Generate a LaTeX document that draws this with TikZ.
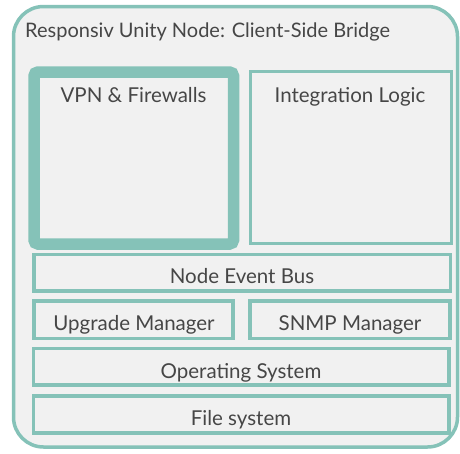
\documentclass[tikz,border=0pt]{standalone}
\usepackage{fontspec}
\setmainfont{Lato}
\definecolor{tealline}{RGB}{133,194,184}
\definecolor{bgfill}{RGB}{241,241,241}
\definecolor{txtcol}{RGB}{70,70,70}
\begin{document}
\begin{tikzpicture}[x=1pt,y=-1pt,
  outerbox/.style={draw=tealline,line width=3.5pt,fill=bgfill,rounded corners=30pt},
  layer/.style={draw=tealline,line width=3.5pt,fill=bgfill,inner sep=0pt,outer sep=0pt},
  thickbox/.style={draw=tealline,line width=11.5pt,fill=bgfill,rounded corners=4pt,inner sep=0pt,outer sep=0pt},
  lbl/.style={anchor=base,text=txtcol,font=\fontsize{20.5}{24}\selectfont,inner sep=0pt},
  ttl/.style={anchor=base west,text=txtcol,font=\fontsize{20}{24}\selectfont,inner sep=0pt},
]
\useasboundingbox (0,0) rectangle (460,453);
\draw[outerbox] (13.5,6.5) rectangle (457.5,447);
\node[ttl] (title) at (25,37) {Responsiv Unity Node: Client-Side Bridge};

\node[thickbox,minimum width=199.5pt,minimum height=172pt] (vpn) at (133.75,158) {};
\node[layer,minimum width=201pt,minimum height=172pt] (integ) at (351,157.5) {};
\node[layer,minimum width=416.5pt,minimum height=36.5pt] (bus) at (242.25,272.75) {};
\node[layer,minimum width=199pt,minimum height=37.5pt] (upg) at (133.5,319.75) {};
\node[layer,minimum width=200pt,minimum height=37.5pt] (snmp) at (350,319.75) {};
\node[layer,minimum width=415.5pt,minimum height=36.5pt] (os) at (241.25,366.75) {};
\node[layer,minimum width=415.5pt,minimum height=37pt] (fs) at (241.25,414.5) {};

\node[lbl] (vpnt) at (133.5,102) {VPN \& Firewalls};
\node[lbl] (integt) at (350,102) {Integration Logic};
\node[lbl] (bust) at (242,283) {Node Event Bus};
\node[lbl] (upgt) at (134,330) {Upgrade Manager};
\node[lbl] (snmpt) at (350,330) {SNMP Manager};
\node[lbl] (ost) at (241,378) {Operating System};
\node[lbl] (fst) at (241,425) {File system};
\end{tikzpicture}
\end{document}
